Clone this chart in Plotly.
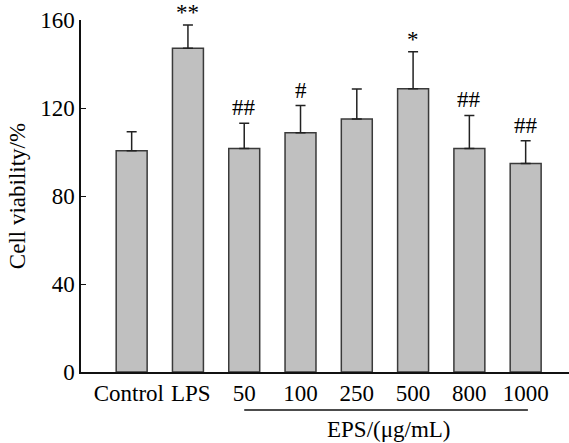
import plotly.graph_objects as go

categories = ["Control", "LPS", "50", "100", "250", "500", "800", "1000"]
viability = [100.6, 147.2, 101.6, 108.7, 115.0, 128.8, 101.6, 94.8]
errors = [8.6, 10.5, 11.5, 12.4, 13.6, 16.8, 15.0, 10.3]
marks = ["", "**", "##", "#", "", "*", "##", "##"]
y_ticks = [0, 40, 80, 120, 160]

FONT = "Liberation Serif"
FS = 23
xpos = list(range(len(categories)))
tick_text = ["Control\u00a0", "\u00a0LPS"] + categories[2:]

fig = go.Figure()
fig.add_trace(go.Bar(
    x=xpos, y=viability, width=0.55,
    marker=dict(color="#c0c0c0", line=dict(color="#3a3a3a", width=1.5)),
    error_y=dict(type="data", symmetric=False, array=errors,
                 arrayminus=[0] * len(errors), color="#222222",
                 thickness=1.5, width=5),
    showlegend=False,
))

for x, v, e, m in zip(xpos, viability, errors, marks):
    if m:
        fig.add_annotation(x=x, y=v + e, text=m, showarrow=False,
                           yanchor="bottom", yshift=-2 if "*" in m else 1,
                           font=dict(family=FONT, size=FS, color="#000"))

fig.add_shape(type="line", xref="x", yref="paper", x0=2.0, x1=7.04,
              y0=-0.108, y1=-0.108, line=dict(color="#111", width=1.5))
fig.add_annotation(x=4.57, xref="x", y=-0.163, yref="paper",
                   text="EPS/(μg/mL)", showarrow=False, yanchor="middle",
                   font=dict(family=FONT, size=FS, color="#000"))

fig.update_layout(
    width=569, height=443,
    margin=dict(l=81, r=0, t=20, b=71),
    plot_bgcolor="white", paper_bgcolor="white",
    font=dict(family=FONT, size=FS, color="#000"),
    bargap=0.45,
    xaxis=dict(range=[-0.9, 7.77], tickvals=xpos, ticktext=tick_text,
               tickangle=0,
               showline=True, linecolor="#111", linewidth=1.5,
               ticks="", showgrid=False, zeroline=False,
               tickfont=dict(family=FONT, size=FS, color="#000")),
    yaxis=dict(range=[0, 160], tickvals=y_ticks, showline=True,
               linecolor="#111", linewidth=1.5, ticks="inside", ticklen=5,
               tickcolor="#111", showgrid=False, zeroline=False,
               tickfont=dict(family=FONT, size=FS, color="#000"),
               title=dict(text="Cell viability/%", standoff=8,
                          font=dict(family=FONT, size=FS, color="#000"))),
)

fig.write_html("out.html")
